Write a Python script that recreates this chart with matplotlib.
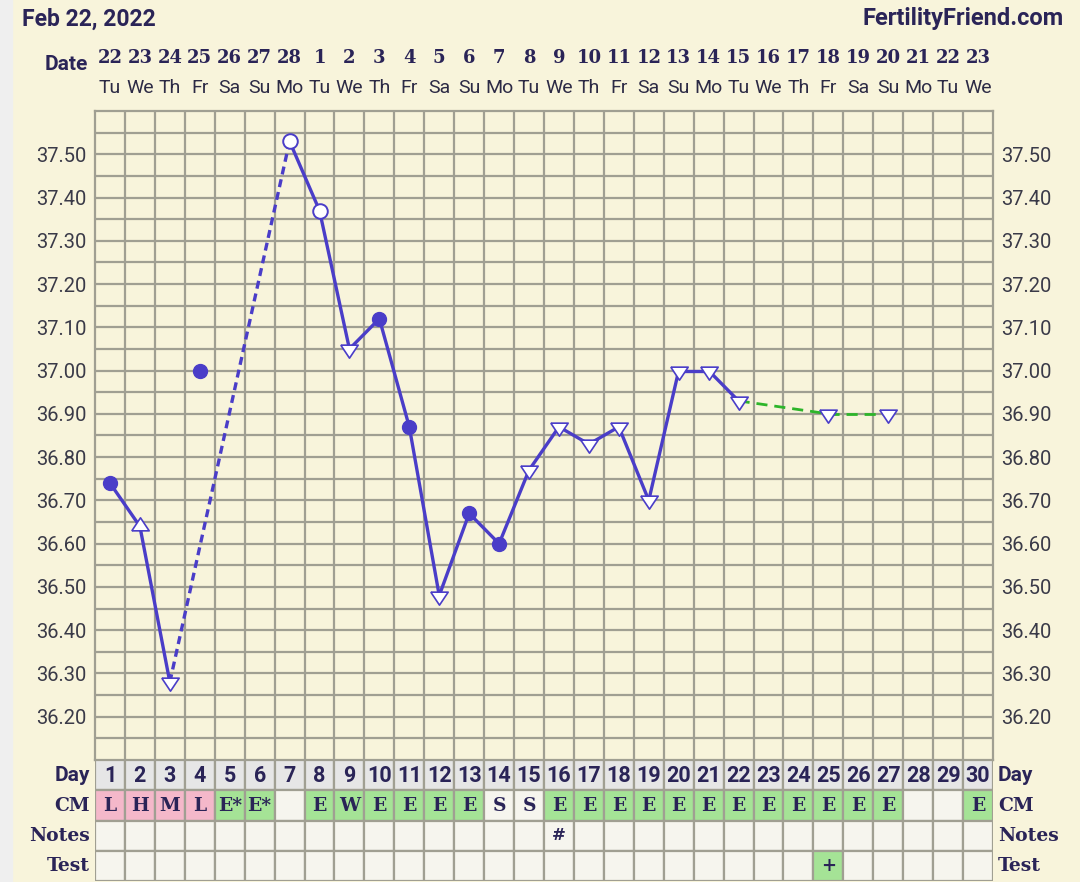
import numpy as np
import matplotlib
matplotlib.use("Agg")
import matplotlib.pyplot as plt
from matplotlib.transforms import blended_transform_factory
from matplotlib.patches import Rectangle

# ---------------- data ----------------
cycle_days = list(range(1, 31))
dates = ['22', '23', '24', '25', '26', '27', '28', '1', '2', '3', '4', '5', '6', '7', '8',
         '9', '10', '11', '12', '13', '14', '15', '16', '17', '18', '19', '20', '21', '22', '23']
weekdays = ['Tu', 'We', 'Th', 'Fr', 'Sa', 'Su', 'Mo', 'Tu', 'We', 'Th', 'Fr', 'Sa', 'Su', 'Mo', 'Tu',
            'We', 'Th', 'Fr', 'Sa', 'Su', 'Mo', 'Tu', 'We', 'Th', 'Fr', 'Sa', 'Su', 'Mo', 'Tu', 'We']
nan = np.nan
temps = [36.74, 36.64, 36.28, 37.00, nan, nan, 37.53, 37.37, 37.05, 37.12,
         36.87, 36.48, 36.67, 36.60, 36.77, 36.87, 36.83, 36.87, 36.70, 37.00,
         37.00, 36.93, nan, nan, 36.90, nan, 36.90, nan, nan, nan]
marker_kind = ['dot', 'up', 'down', 'dot', '', '', 'ring', 'ring', 'down', 'dot',
               'dot', 'down', 'dot', 'dot', 'down', 'down', 'down', 'down', 'down', 'down',
               'down', 'down', '', '', 'down', '', 'down', '', '', '']
discarded_days = [4]
green_from_day = 22
cm_values = ['L', 'H', 'M', 'L', 'E*', 'E*', '', 'E', 'W', 'E', 'E', 'E', 'E', 'S', 'S',
             'E', 'E', 'E', 'E', 'E', 'E', 'E', 'E', 'E', 'E', 'E', 'E', '', '', 'E']
notes_values = {16: '#'}
test_values = {25: '+'}
y_ticks = [36.20, 36.30, 36.40, 36.50, 36.60, 36.70, 36.80, 36.90, 37.00, 37.10, 37.20, 37.30, 37.40, 37.50]
y_range = (36.10, 37.60)
row_labels = ['Day', 'CM', 'Notes', 'Test']

# ---------------- style ----------------
W, H = 1080, 882
BG = '#F8F4DB'
GRID = '#A09F92'
NAVY = '#2A2457'
PURPLE = '#4A3DC8'
GREEN_LINE = '#2DB52A'
PINK = '#F4B8CA'
GREEN = '#A5E396'
BLANK = '#F6F5EE'
DAYROW = '#E6E6E6'
SLAB = 'DejaVu Serif'
SANS = 'Roboto'

fig = plt.figure(figsize=(W / 100, H / 100), dpi=100)
fig.patch.set_facecolor(BG)
fig.add_artist(Rectangle((0, 0), 12 / W, 1, transform=fig.transFigure, color='#EFEFEF', zorder=0))

def fx(px):
    return px / W

def fy(py):
    return 1 - py / H

L, R = 95, 993
TOP, BOT = 111, 760
ax = fig.add_axes([fx(L), fy(BOT), fx(R - L), (BOT - TOP) / H])
ax.set_facecolor(BG)
ax.set_xlim(0.5, 30.5)
ax.set_ylim(*y_range)

# grid
ax.set_xticks([])
ax.set_xticks(np.arange(1.5, 30.5, 1), minor=True)
ax.set_yticks(y_ticks)
ax.set_yticks(np.arange(36.15, 37.60, 0.1), minor=True)
ax.set_yticklabels([f'{v:.2f}' for v in y_ticks])
ax.tick_params(axis='both', which='both', length=0)
ax.tick_params(axis='y', labelleft=True, labelright=True, labelsize=14.5, labelcolor='#3A3A48', pad=6)
for lab in ax.get_yticklabels():
    lab.set_fontfamily(SANS)
ax.grid(True, which='both', color=GRID, linewidth=1.6)
ax.set_axisbelow(True)
for sp in ax.spines.values():
    sp.set_color(GRID)
    sp.set_linewidth(1.6)

# ---------------- temperature lines ----------------
tv = np.array(temps, dtype=float)
valid = [d for d, t in zip(cycle_days, temps) if not np.isnan(t) and d not in discarded_days]
for a, b in zip(valid[:-1], valid[1:]):
    ya, yb = tv[a - 1], tv[b - 1]
    if a >= green_from_day:
        ax.plot([a, b], [ya, yb], color=GREEN_LINE, lw=2.0, ls=(0, (4, 2.5)), zorder=3)
    elif b - a == 1:
        ax.plot([a, b], [ya, yb], color=PURPLE, lw=2.4, zorder=3, solid_capstyle='round')
    else:
        ax.plot([a, b], [ya, yb], color=PURPLE, lw=2.4, ls=(0, (2.4, 1.5)), zorder=3)

tri_down = [(-1, 0.5), (1, 0.5), (0, -1), (-1, 0.5)]
tri_up = [(-1, -0.5), (1, -0.5), (0, 1), (-1, -0.5)]
for d, t, k in zip(cycle_days, temps, marker_kind):
    if np.isnan(t) or not k:
        continue
    if k == 'dot':
        ax.plot(d, t, marker='o', ms=10, mfc=PURPLE, mec=PURPLE, zorder=4)
    elif k == 'ring':
        ax.plot(d, t, marker='o', ms=10.5, mfc='white', mec=PURPLE, mew=1.4, zorder=4)
    elif k == 'down':
        ax.plot(d, t, marker=tri_down, ms=12.5, mfc='white', mec=PURPLE, mew=1.2, zorder=4)
    elif k == 'up':
        ax.plot(d, t, marker=tri_up, ms=12.5, mfc='white', mec=PURPLE, mew=1.2, zorder=4)

# ---------------- header ----------------
trans_top = blended_transform_factory(ax.transData, fig.transFigure)
for d, ds, wd in zip(cycle_days, dates, weekdays):
    ax.text(d, fy(58), ds, transform=trans_top, ha='center', va='center',
            fontsize=13, fontweight='bold', family=SLAB, color=NAVY)
    ax.text(d, fy(88), wd, transform=trans_top, ha='center', va='center',
            fontsize=14, family=SANS, color='#2C2A45')
fig.text(fx(88), fy(65), 'Date', ha='right', va='center', fontsize=15, fontweight='bold',
         family=SANS, color=NAVY)
fig.text(fx(22), fy(19), 'Feb 22, 2022', ha='left', va='center', fontsize=16.5, fontweight='bold',
         family=SANS, color=NAVY)
fig.text(fx(1064), fy(19), 'FertilityFriend.com', ha='right', va='center', fontsize=17,
         fontweight='bold', family=SANS, color=NAVY)

# ---------------- table ----------------
TT, TB = 760, 881
tab = fig.add_axes([fx(L), fy(TB), fx(R - L), (TB - TT) / H])
tab.set_xlim(0.5, 30.5)
tab.set_ylim(4, 0)
tab.axis('off')

def cm_color(v):
    if v in ('L', 'H', 'M'):
        return PINK
    if v in ('E', 'E*', 'W'):
        return GREEN
    return BLANK

row_colors = [
    [DAYROW] * 30,
    [cm_color(v) for v in cm_values],
    [BLANK] * 30,
    [GREEN if d in test_values else BLANK for d in cycle_days],
]
for r, cols in enumerate(row_colors):
    tab.bar(cycle_days, 1, bottom=r, width=1, color=cols, edgecolor=GRID, linewidth=1.6,
            align='center', zorder=1)

for d in cycle_days:
    tab.text(d, 0.52, str(d), ha='center', va='center', fontsize=15.5, fontweight='bold',
             family=SANS, color=NAVY)
    v = cm_values[d - 1]
    if v:
        tab.text(d, 1.52, v, ha='center', va='center', fontsize=13.5, fontweight='bold',
                 family=SLAB, color=NAVY)
    if d in notes_values:
        tab.text(d, 2.5, notes_values[d], ha='center', va='center', fontsize=12,
                 fontweight='bold', family=SLAB, color=NAVY)
    if d in test_values:
        tab.text(d, 3.5, test_values[d], ha='center', va='center', fontsize=13,
                 fontweight='bold', family=SLAB, color=NAVY)

for r, lab in enumerate(row_labels):
    fam = SANS if lab == 'Day' else SLAB
    fs = 15 if lab == 'Day' else 13.5
    tab.text(0.5 - 5 / 29.93, r + 0.52, lab, ha='right', va='center', fontsize=fs,
             fontweight='bold', family=fam, color=NAVY)
    tab.text(30.5 + 5 / 29.93, r + 0.52, lab, ha='left', va='center', fontsize=fs,
             fontweight='bold', family=fam, color=NAVY)

fig.savefig('out.png', dpi=100, facecolor=BG)
